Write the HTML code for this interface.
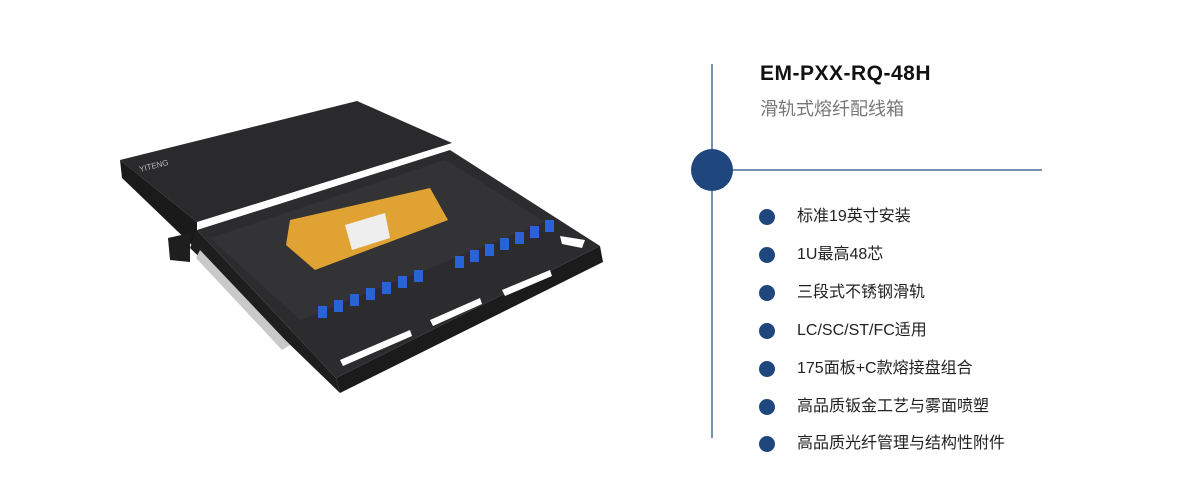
<!DOCTYPE html>
<html><head><meta charset="utf-8"><style>
body{margin:0;width:1200px;height:500px;background:#fff;position:relative;overflow:hidden;font-family:"Liberation Sans","Noto Sans CJK SC",sans-serif}
.t{position:absolute;left:760px;top:62px;font-size:21px;font-weight:bold;color:#111;letter-spacing:0.5px}
.s{position:absolute;left:760px;top:95px;font-size:18px;color:#777}
.li{position:absolute;left:797px;font-size:16px;color:#222;line-height:20px}
</style></head><body>
<svg width="1200" height="500" style="position:absolute;left:0;top:0">
<line x1="712" y1="64" x2="712" y2="438" stroke="#4a6a9a" stroke-width="1.5"/>
<line x1="712" y1="170" x2="1042" y2="170" stroke="#4a6a9a" stroke-width="1.5"/>
<circle cx="712" cy="170" r="21" fill="#1f477d"/>
<g fill="#1f477d">
<circle cx="767" cy="217" r="8"/><circle cx="767" cy="255" r="8"/><circle cx="767" cy="293" r="8"/><circle cx="767" cy="331" r="8"/><circle cx="767" cy="369" r="8"/><circle cx="767" cy="407" r="8"/><circle cx="767" cy="444" r="8"/>
</g>
<!-- product -->
<polygon points="120,160 357,101 452,143 197,222" fill="#2a2a2c"/>
<polygon points="120,160 197,222 197,250 122,178" fill="#1a1a1a"/>
<polygon points="168,238 190,233 190,262 170,260" fill="#1e1e1e"/>
<text x="140" y="172" font-size="8" fill="#bbb" transform="rotate(-14 140 172)" font-family="Liberation Sans">YITENG</text>
<polygon points="197,230 450,150 600,246 336,378" fill="#2c2c2e"/>
<polygon points="210,238 445,160 545,222 300,320" fill="#333335"/>
<polygon points="336,378 600,246 603,262 340,393" fill="#1b1b1b"/>
<polygon points="197,230 336,378 340,393 190,248" fill="#1e1e1e"/>
<polygon points="200,250 290,345 282,350 196,258" fill="#c9c9c9"/>
<polygon points="290,220 430,188 448,220 315,270 286,245" fill="#e0a232"/>
<polygon points="345,225 385,213 390,238 352,250" fill="#eee"/>
<g fill="#2a63d8">
<rect x="318" y="306" width="9" height="12"/><rect x="334" y="300" width="9" height="12"/><rect x="350" y="294" width="9" height="12"/><rect x="366" y="288" width="9" height="12"/><rect x="382" y="282" width="9" height="12"/><rect x="398" y="276" width="9" height="12"/><rect x="414" y="270" width="9" height="12"/>
<rect x="455" y="256" width="9" height="12"/><rect x="470" y="250" width="9" height="12"/><rect x="485" y="244" width="9" height="12"/><rect x="500" y="238" width="9" height="12"/><rect x="515" y="232" width="9" height="12"/><rect x="530" y="226" width="9" height="12"/><rect x="545" y="220" width="9" height="12"/>
</g>
<g fill="#fff">
<polygon points="340,360 410,330 412,336 343,366"/><polygon points="430,320 480,298 482,304 433,326"/><polygon points="502,290 550,270 552,276 505,296"/><polygon points="560,236 585,240 582,248 562,244"/>
</g>
</svg>
<div class="t">EM-PXX-RQ-48H</div>
<div class="s">滑轨式熔纤配线箱</div>
<div class="li" style="top:207px">标准19英寸安装</div>
<div class="li" style="top:245px">1U最高48芯</div>
<div class="li" style="top:283px">三段式不锈钢滑轨</div>
<div class="li" style="top:321px">LC/SC/ST/FC适用</div>
<div class="li" style="top:359px">175面板+C款熔接盘组合</div>
<div class="li" style="top:397px">高品质钣金工艺与雾面喷塑</div>
<div class="li" style="top:434px">高品质光纤管理与结构性附件</div>
</body></html>
